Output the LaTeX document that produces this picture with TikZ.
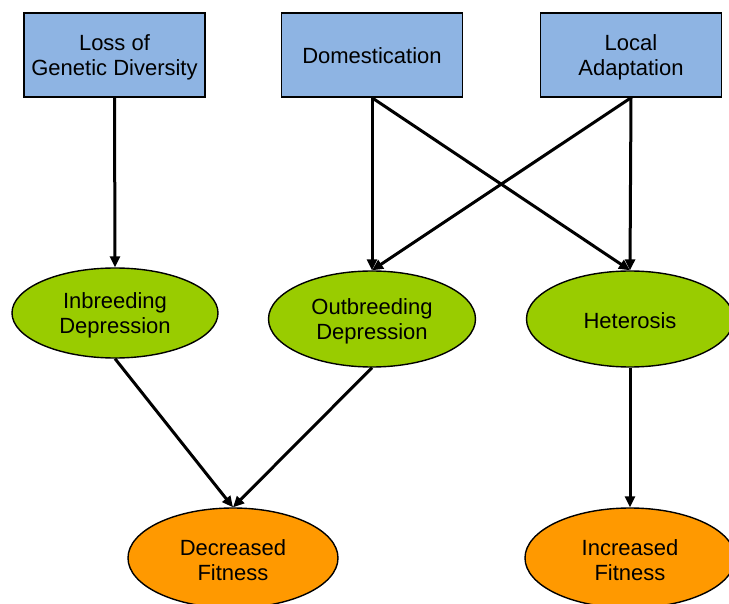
\documentclass[tikz,border=0pt]{standalone}
\usepackage{fontspec}
\setmainfont{Liberation Sans}
\usetikzlibrary{shapes.geometric,arrows.meta}
\definecolor{causeblue}{HTML}{8EB4E3}
\definecolor{effectgreen}{HTML}{99CC00}
\definecolor{fitorange}{HTML}{FF9900}
\begin{document}
\begin{tikzpicture}[x=1pt,y=-1pt,
  font=\fontsize{22}{25}\selectfont,
  cause/.style={draw=black,line width=1.5pt,fill=causeblue,rectangle,
    minimum width=181pt,minimum height=84pt,align=center,inner sep=0pt},
  effect/.style={draw=black,line width=1.4pt,fill=effectgreen,ellipse,
    minimum width=207pt,minimum height=96pt,align=center,inner sep=0pt},
  fitness/.style={draw=black,line width=1.4pt,fill=fitorange,ellipse,
    minimum width=210pt,minimum height=100pt,align=center,inner sep=0pt},
  lbl/.style={yshift=-2pt},
  link/.style={line width=3pt,-{Triangle[width=10pt,length=11pt]}}]
\useasboundingbox (0,0) rectangle (729,604);
\node[cause] (loss) at (114.5,55) {};
\node[cause] (dom) at (372,55) {};
\node[cause] (loc) at (631,55) {};
\node[effect,minimum width=206pt,minimum height=90pt] (inb) at (115,313) {};
\node[effect] (outb) at (372,319) {};
\node[effect] (het) at (630,319) {};
\node[fitness] (dec) at (233,558) {};
\node[fitness] (inc) at (630,558) {};
% labels, set slightly below each shape's centre
\node[lbl,align=center] (lossT) at (loss) {Loss of\\Genetic Diversity};
\node[lbl,yshift=1pt] (domT) at (dom) {Domestication};
\node[lbl,align=center] (locT) at (loc) {Local\\Adaptation};
\node[lbl,align=center] (inbT) at (inb) {Inbreeding\\Depression};
\node[lbl,align=center] (outbT) at (outb) {Outbreeding\\Depression};
\node[lbl] (hetT) at (het) {Heterosis};
\node[lbl,align=center] (decT) at (dec) {Decreased\\Fitness};
\node[lbl,align=center] (incT) at (inc) {Increased\\Fitness};
\draw[link] (loss.south) -- (inb.north);
\draw[link] (dom.south) -- (outb.north);
\draw[link] (dom.south) -- (het.north);
\draw[link] (loc.south) -- (het.north);
\draw[link] (loc.south) -- (outb.north);
\draw[link] (inb.south) -- (dec.north);
\draw[link] (outb.south) -- (dec.north);
\draw[link] (het.south) -- (inc.north);
\end{tikzpicture}
\end{document}
